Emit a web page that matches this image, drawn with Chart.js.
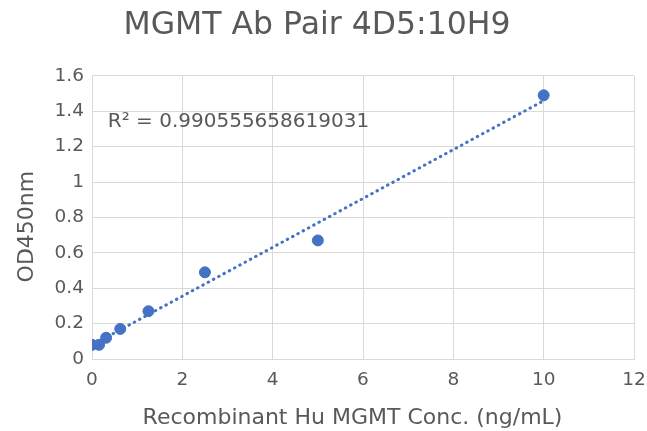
<!DOCTYPE html>
<html>
<head>
<meta charset="utf-8">
<script src="https://cdn.jsdelivr.net/npm/chart.js@4.4.1/dist/chart.umd.min.js"></script>
<style>
  body { margin: 0; background: #fff; }
  #wrap { width: 647px; height: 431px; }
</style>
</head>
<body>
<div id="wrap"><canvas id="chart" width="647" height="431"></canvas></div>
<script>
// concentration (ng/mL) and OD450 readings
const concValues = [0, 0.156, 0.3125, 0.625, 1.25, 2.5, 5, 10];
const odValues = [0.08, 0.08, 0.12, 0.17, 0.27, 0.49, 0.67, 1.49];
const xTicks = [0, 2, 4, 6, 8, 10, 12];
const yTicks = [0, 0.2, 0.4, 0.6, 0.8, 1, 1.2, 1.4, 1.6];
const r2Label = 'R² = 0.990555658619031';

const textColor = '#595959';
const gridColor = '#d9d9d9';
const fontFamily = '"DejaVu Sans", sans-serif';

// least squares trendline over the data range
function linearFit(xs, ys) {
  const n = xs.length;
  const mx = xs.reduce((a, b) => a + b, 0) / n;
  const my = ys.reduce((a, b) => a + b, 0) / n;
  let sxy = 0, sxx = 0;
  xs.forEach((x, i) => { sxy += (x - mx) * (ys[i] - my); sxx += (x - mx) * (x - mx); });
  const slope = sxy / sxx;
  return { slope, intercept: my - slope * mx };
}
const fit = linearFit(concValues, odValues);
const xMin = Math.min(...concValues), xMax = Math.max(...concValues);
const trendPoints = [xMin, xMax].map(x => ({ x, y: fit.intercept + fit.slope * x }));

const r2Plugin = {
  id: 'r2text',
  afterDatasetsDraw(chart) {
    const { ctx, scales } = chart;
    ctx.save();
    ctx.font = '20px ' + fontFamily;
    ctx.fillStyle = textColor;
    ctx.textBaseline = 'middle';
    ctx.fillText(r2Label, scales.x.getPixelForValue(0.35), scales.y.getPixelForValue(1.34));
    ctx.restore();
  }
};

new Chart(document.getElementById('chart').getContext('2d'), {
  type: 'scatter',
  data: {
    datasets: [
      {
        label: 'Trend',
        type: 'line',
        data: trendPoints,
        borderColor: '#4472C4',
        borderWidth: 3,
        borderDash: [0.5, 5.5],
        borderCapStyle: 'round',
        pointRadius: 0,
        fill: false,
        order: 2
      },
      {
        label: 'OD450',
        data: concValues.map((x, i) => ({ x, y: odValues[i] })),
        backgroundColor: '#4472C4',
        borderColor: '#4472C4',
        pointRadius: 5.5,
        pointHoverRadius: 5.5,
        order: 1
      }
    ]
  },
  options: {
    responsive: false,
    animation: false,
    layout: { padding: { left: 0, right: 13, top: 0, bottom: 0 } },
    plugins: {
      legend: { display: false },
      tooltip: { enabled: false },
      title: {
        display: true,
        text: 'MGMT Ab Pair 4D5:10H9',
        color: textColor,
        font: { family: fontFamily, size: 31.5, weight: 'normal' },
        padding: { top: 7, bottom: 31 }
      }
    },
    scales: {
      x: {
        type: 'linear',
        min: 0,
        max: 12,
        afterBuildTicks: s => { s.ticks = xTicks.map(v => ({ value: v })); },
        afterFit: s => { s.height = 72; s.paddingLeft = 0; s.paddingRight = 0; },
        ticks: {
          color: textColor,
          font: { family: fontFamily, size: 18.5 },
          padding: 10,
          callback: v => String(v)
        },
        grid: { color: gridColor, lineWidth: 1, drawTicks: false },
        border: { color: gridColor },
        title: {
          display: true,
          // trailing spaces nudge the title left like the original
          text: 'Recombinant Hu MGMT Conc. (ng/mL)   ',
          color: textColor,
          font: { family: fontFamily, size: 22 },
          padding: { top: 0, bottom: 0 }
        }
      },
      y: {
        type: 'linear',
        min: 0,
        max: 1.6,
        afterBuildTicks: s => { s.ticks = yTicks.map(v => ({ value: v })); },
        afterFit: s => { s.width = 92; },
        ticks: {
          color: textColor,
          font: { family: fontFamily, size: 18.5 },
          padding: 8,
          callback: v => String(Number(v.toFixed(1)))
        },
        grid: { color: gridColor, lineWidth: 1, drawTicks: false },
        border: { color: gridColor },
        title: {
          display: true,
          text: 'OD450nm  \u2009',
          color: textColor,
          font: { family: fontFamily, size: 22 },
          padding: { top: 14, bottom: 0 }
        }
      }
    }
  },
  plugins: [r2Plugin]
});
</script>
</body>
</html>
